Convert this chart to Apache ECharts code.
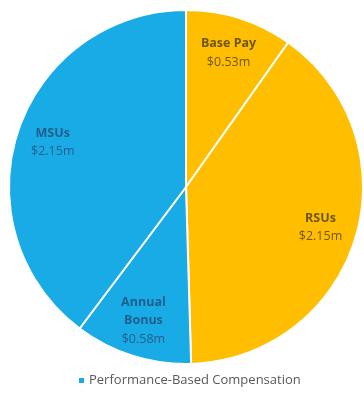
<!DOCTYPE html>
<html>
<head>
<meta charset="utf-8">
<script src="https://cdn.jsdelivr.net/npm/echarts@6/dist/echarts.min.js"></script>
<style>
  html, body { margin: 0; padding: 0; background: #ffffff; }
  #chart { width: 364px; height: 396px; }
</style>
</head>
<body>
<div id="chart"></div>
<script>
// Compensation mix, clockwise from 12 o'clock
const categories = ['Base Pay', 'RSUs', 'Annual\nBonus', 'MSUs'];
const valuesM = [0.53, 2.15, 0.58, 2.15];
const legendName = 'Performance-Based Compensation';

const BLUE = '#19ABE6';
const GOLD = '#FFBF00';
const sliceColors = [GOLD, GOLD, BLUE, BLUE];
const textColors = ['#6E5614', '#6E5614', '#1F5F8C', '#1F5F8C'];

const CENTER = [186, 187];
const R = 177;
const FONT = '"Open Sans", Lato, sans-serif';

const pieData = categories.map((name, i) => ({
  name: name,
  value: valuesM[i],
  itemStyle: { color: sliceColors[i] }
}));

const labelData = categories.map((name, i) => ({
  name: name,
  value: valuesM[i],
  label: {
    rich: {
      n: { fontFamily: FONT, fontSize: 12.5, fontWeight: 'bold', color: textColors[i], lineHeight: 18.5, align: 'center' },
      v: { fontFamily: FONT, fontSize: 12.5, color: textColors[i], lineHeight: 18.5, align: 'center' }
    }
  }
}));

const chart = echarts.init(document.getElementById('chart'), null, { renderer: 'canvas' });
chart.setOption({
  animation: false,
  backgroundColor: '#ffffff',
  legend: {
    data: [legendName],
    left: 79,
    top: 374,
    padding: 0,
    icon: 'rect',
    itemWidth: 5,
    itemHeight: 5,
    itemGap: 6,
    textStyle: { fontFamily: '"Open Sans", sans-serif', fontSize: 13, color: '#595959' },
    selectedMode: false
  },
  series: [
    {
      // visible slices
      type: 'pie',
      center: CENTER,
      radius: [0, R],
      startAngle: 90,
      clockwise: true,
      silent: true,
      itemStyle: { borderColor: '#ffffff', borderWidth: 2 },
      label: { show: false },
      labelLine: { show: false },
      data: pieData
    },
    {
      // transparent ring carrying the slice labels at ~0.78 of the radius
      type: 'pie',
      center: CENTER,
      radius: [98, R],
      startAngle: 90,
      clockwise: true,
      silent: true,
      itemStyle: { color: 'rgba(0,0,0,0)', borderWidth: 0 },
      label: {
        show: true,
        position: 'inside',
        formatter: p => '{n|' + p.name + '}\n{v|$' + p.value.toFixed(2) + 'm}'
      },
      labelLine: { show: false },
      data: labelData
    },
    {
      // legend entry for performance-based pay
      type: 'custom',
      name: legendName,
      coordinateSystem: 'none',
      color: BLUE,
      itemStyle: { color: BLUE },
      renderItem: () => null,
      data: []
    }
  ]
});
</script>
</body>
</html>
